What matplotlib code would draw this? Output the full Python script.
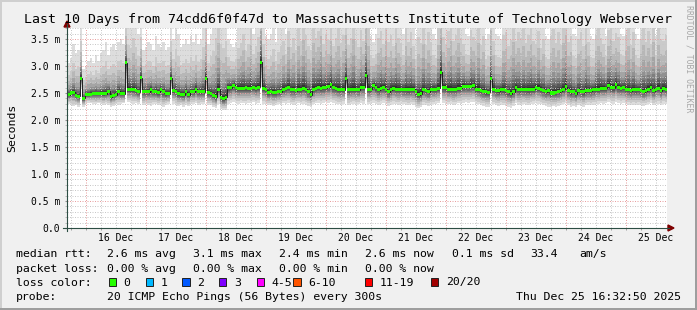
import numpy as np
import matplotlib
matplotlib.use("Agg")
import matplotlib.pyplot as plt
from matplotlib.patches import Rectangle, Polygon
from matplotlib.lines import Line2D

W, H = 697, 310
MONO = "DejaVu Sans Mono"
plt.rcParams["font.family"] = MONO

# one value per hour over the last 10 days, in ms
rtt_median = [
    2.47, 2.50, 2.51, 2.46, 2.44, 2.77, 2.40, 2.47, 2.47, 2.48, 2.49, 2.49, 2.49, 2.49, 2.49, 2.49, 2.53, 2.43, 2.46, 2.47,
    2.53, 2.49, 2.49, 3.06, 2.57, 2.57, 2.56, 2.55, 2.52, 2.78, 2.52, 2.52, 2.52, 2.56, 2.52, 2.52, 2.51, 2.56, 2.52, 2.49,
    2.49, 2.77, 2.54, 2.52, 2.49, 2.47, 2.47, 2.52, 2.47, 2.52, 2.52, 2.57, 2.52, 2.52, 2.52, 2.77, 2.51, 2.49, 2.45, 2.43,
    2.57, 2.42, 2.39, 2.42, 2.60, 2.60, 2.64, 2.60, 2.59, 2.59, 2.59, 2.60, 2.59, 2.59, 2.60, 2.59, 2.61, 3.07, 2.59, 2.56,
    2.51, 2.52, 2.51, 2.51, 2.52, 2.52, 2.57, 2.59, 2.60, 2.56, 2.56, 2.54, 2.57, 2.57, 2.59, 2.57, 2.52, 2.47, 2.57, 2.59,
    2.60, 2.59, 2.60, 2.60, 2.62, 2.65, 2.60, 2.59, 2.57, 2.56, 2.56, 2.76, 2.56, 2.57, 2.57, 2.57, 2.56, 2.61, 2.61, 2.83,
    2.57, 2.57, 2.64, 2.60, 2.56, 2.59, 2.60, 2.57, 2.52, 2.56, 2.59, 2.57, 2.57, 2.56, 2.56, 2.56, 2.56, 2.56, 2.57, 2.52,
    2.47, 2.49, 2.56, 2.54, 2.52, 2.56, 2.57, 2.57, 2.59, 2.88, 2.60, 2.60, 2.57, 2.57, 2.57, 2.57, 2.59, 2.59, 2.62, 2.62,
    2.62, 2.62, 2.63, 2.57, 2.57, 2.54, 2.52, 2.52, 2.51, 2.76, 2.57, 2.54, 2.54, 2.56, 2.56, 2.54, 2.52, 2.49, 2.52, 2.60,
    2.56, 2.56, 2.56, 2.56, 2.56, 2.56, 2.57, 2.60, 2.59, 2.57, 2.54, 2.52, 2.54, 2.50, 2.50, 2.51, 2.52, 2.54, 2.57, 2.62,
    2.54, 2.52, 2.52, 2.49, 2.54, 2.52, 2.52, 2.54, 2.54, 2.54, 2.56, 2.57, 2.57, 2.59, 2.59, 2.59, 2.63, 2.60, 2.60, 2.65,
    2.60, 2.59, 2.60, 2.57, 2.56, 2.54, 2.56, 2.56, 2.56, 2.54, 2.52, 2.54, 2.57, 2.60, 2.54, 2.57, 2.59, 2.54, 2.59, 2.57,
]
rtt_min = [
    2.30, 2.28, 2.26, 2.27, 2.25, 2.58, 2.24, 2.30, 2.32, 2.31, 2.30, 2.29, 2.31, 2.30, 2.28, 2.30, 2.27, 2.25, 2.26, 2.29,
    2.28, 2.30, 2.31, 2.60, 2.33, 2.32, 2.30, 2.31, 2.29, 2.56, 2.27, 2.30, 2.28, 2.26, 2.29, 2.30, 2.27, 2.28, 2.25, 2.27,
    2.29, 2.57, 2.30, 2.28, 2.26, 2.27, 2.25, 2.28, 2.26, 2.29, 2.30, 2.31, 2.28, 2.29, 2.30, 2.58, 2.28, 2.27, 2.24, 2.22,
    2.30, 2.20, 2.18, 2.19, 2.30, 2.32, 2.33, 2.31, 2.30, 2.32, 2.31, 2.30, 2.32, 2.31, 2.33, 2.30, 2.31, 2.62, 2.30, 2.29,
    2.27, 2.28, 2.26, 2.27, 2.29, 2.28, 2.31, 2.30, 2.32, 2.29, 2.28, 2.30, 2.31, 2.29, 2.30, 2.28, 2.26, 2.24, 2.29, 2.31,
    2.32, 2.30, 2.31, 2.33, 2.32, 2.34, 2.31, 2.30, 2.29, 2.28, 2.30, 2.58, 2.27, 2.29, 2.30, 2.28, 2.29, 2.31, 2.30, 2.60,
    2.29, 2.30, 2.32, 2.30, 2.28, 2.29, 2.31, 2.30, 2.26, 2.28, 2.30, 2.29, 2.28, 2.30, 2.29, 2.28, 2.27, 2.29, 2.28, 2.25,
    2.22, 2.24, 2.28, 2.27, 2.26, 2.28, 2.29, 2.30, 2.31, 2.62, 2.31, 2.30, 2.29, 2.30, 2.28, 2.29, 2.31, 2.30, 2.32, 2.33,
    2.32, 2.33, 2.34, 2.30, 2.29, 2.27, 2.26, 2.25, 2.24, 2.58, 2.29, 2.27, 2.26, 2.28, 2.27, 2.26, 2.25, 2.23, 2.26, 2.31,
    2.28, 2.27, 2.29, 2.28, 2.27, 2.29, 2.30, 2.31, 2.30, 2.29, 2.27, 2.26, 2.25, 2.24, 2.26, 2.25, 2.26, 2.27, 2.29, 2.31,
    2.27, 2.25, 2.26, 2.24, 2.27, 2.26, 2.25, 2.27, 2.28, 2.27, 2.28, 2.29, 2.30, 2.31, 2.30, 2.31, 2.33, 2.31, 2.30, 2.33,
    2.31, 2.30, 2.31, 2.29, 2.28, 2.27, 2.28, 2.27, 2.28, 2.27, 2.26, 2.27, 2.29, 2.31, 2.27, 2.29, 2.30, 2.27, 2.30, 2.29,
]
rtt_max = [
    3.05, 3.15, 3.40, 3.25, 3.30, 3.90, 2.95, 3.00, 3.10, 3.15, 3.05, 3.20, 3.10, 3.25, 3.30, 3.45, 3.20, 3.35, 3.40, 3.30,
    3.45, 3.50, 3.40, 4.20, 3.90, 3.80, 4.10, 3.85, 3.60, 4.00, 3.30, 3.35, 3.45, 3.40, 3.30, 3.55, 3.40, 3.35, 3.45, 3.30,
    3.35, 3.90, 3.50, 3.80, 3.60, 3.35, 3.40, 3.50, 3.40, 3.55, 3.45, 3.60, 3.40, 3.50, 3.85, 4.30, 3.40, 3.60, 3.80, 4.20,
    4.50, 4.00, 3.90, 4.10, 3.50, 3.40, 3.35, 3.45, 3.80, 3.95, 4.20, 3.70, 3.90, 4.40, 3.60, 3.85, 4.10, 5.00, 3.90, 3.55,
    3.50, 3.60, 3.80, 3.45, 3.70, 3.90, 4.00, 3.60, 4.30, 3.85, 4.10, 3.75, 4.40, 4.00, 4.60, 4.20, 3.90, 3.80, 4.50, 4.10,
    4.30, 4.80, 3.90, 4.20, 4.00, 4.50, 3.85, 4.10, 4.40, 3.95, 4.20, 4.60, 3.90, 4.10, 4.70, 4.00, 3.85, 4.30, 4.00, 4.80,
    4.40, 3.55, 3.45, 3.60, 4.10, 4.30, 3.90, 4.60, 4.00, 4.20, 3.85, 4.50, 4.10, 3.95, 3.60, 4.40, 4.00, 4.30, 3.85, 3.50,
    4.20, 4.00, 4.50, 3.90, 4.30, 4.00, 3.60, 3.50, 4.40, 5.00, 4.10, 3.90, 4.30, 4.60, 4.00, 4.20, 4.50, 4.10, 3.90, 3.60,
    3.55, 4.30, 4.10, 4.00, 4.50, 3.90, 4.20, 3.50, 3.60, 4.80, 4.00, 3.60, 3.55, 3.50, 4.20, 4.30, 3.90, 4.10, 4.60, 4.00,
    4.30, 4.10, 4.40, 3.95, 4.20, 4.50, 4.00, 3.90, 4.30, 3.80, 4.10, 3.55, 3.50, 4.20, 4.40, 4.00, 4.30, 3.90, 4.50, 4.80,
    4.00, 4.20, 3.60, 3.55, 4.10, 4.30, 3.90, 4.50, 4.00, 3.55, 3.50, 4.20, 4.40, 4.10, 3.90, 3.55, 4.30, 4.60, 4.00, 4.20,
    4.10, 3.60, 3.55, 4.20, 4.40, 3.90, 4.30, 3.60, 3.50, 4.10, 4.50, 4.00, 4.30, 3.90, 4.60, 3.55, 4.40, 4.10, 4.00, 4.20,
]

day_labels = ["16 Dec", "17 Dec", "18 Dec", "19 Dec", "20 Dec",
              "21 Dec", "22 Dec", "23 Dec", "24 Dec", "25 Dec"]
first_midnight = 7 + 27 / 60 + 10 / 3600   # hours from graph start (15 Dec 16:32:50)
y_ticks = [0.0, 0.5, 1.0, 1.5, 2.0, 2.5, 3.0, 3.5]
y_labels = ["0.0", "0.5 m", "1.0 m", "1.5 m", "2.0 m", "2.5 m", "3.0 m", "3.5 m"]

rtt_stats = [("2.6", "avg"), ("3.1", "max"), ("2.4", "min"), ("2.6", "now")]
rtt_sd = "0.1"
rtt_ams = "33.4"
loss_stats = [("0.00", "avg"), ("0.00", "max"), ("0.00", "min"), ("0.00", "now")]
loss_levels = ["0", "1", "2", "3", "4-5", "6-10", "11-19", "20/20"]
loss_colors = ["#26ff00", "#00b8ff", "#0059ff", "#7e00ff", "#ff00ff", "#ff5500", "#ff0000", "#a10000"]
probe_text = "20 ICMP Echo Pings (56 Bytes) every 300s"
stamp_text = "Thu Dec 25 16:32:50 2025"
title = "Last 10 Days from 74cdd6f0f47d to Massachusetts Institute of Technology Webserver"

# smoke layer spread (outer -> inner), fraction of distance from median
UP_SHAPE = [1.0, 0.62, 0.44, 0.30, 0.20, 0.15, 0.11, 0.08, 0.05, 0.03]
DOWN_SHAPE = [1.0, 0.82, 0.66, 0.53, 0.42, 0.33, 0.25, 0.18, 0.11, 0.05]
SWIDTH = 0.028


def fx(x):
    return x / W


def fy(y):
    return 1 - y / H


fig = plt.figure(figsize=(W / 100, H / 100), dpi=100, facecolor="#f0f0f0")
ax = fig.add_axes([fx(67), fy(228), 600 / W, 200 / H], facecolor="white")

med = np.array(rtt_median)
lo = np.array(rtt_min)
hi = np.array(rtt_max)
edges = np.arange(len(med) + 1)

for j in range(10):
    g = int(190 / 10 * (10 - (j + 1))) + 50
    col = "#%02x%02x%02x" % (g, g, g)
    top = med + (hi - med) * UP_SHAPE[j]
    bot = med - (med - lo) * DOWN_SHAPE[j]
    ax.stairs(top, edges, baseline=bot, fill=True, color=col, lw=0, zorder=1)

ax.set_xlim(0, 240)
ax.set_ylim(0, 200 / 54)

# grid
for v in np.arange(0.1, 3.75, 0.1):
    if abs(v / 0.5 - round(v / 0.5)) < 1e-6:
        ax.axhline(v, color="#e8a0a0", lw=0.72, ls=(0, (1, 1.5)), zorder=2)
    else:
        ax.axhline(v, color="#c8c8c8", lw=0.72, ls=(0, (1, 1.5)), zorder=2)
for k in range(-1, 11):
    for q in range(4):
        v = first_midnight + 24 * k + 6 * q
        if 0 < v < 240:
            c = "#e8a0a0" if q == 0 else "#c8c8c8"
            ax.axvline(v, color=c, lw=0.72, ls=(0, (1, 1.5)), zorder=2)

ax.stairs(med, edges, baseline=None, color="#202020", lw=0.7, zorder=3)
ax.stairs(med + SWIDTH, edges, baseline=med - SWIDTH, fill=True,
          color=loss_colors[0], lw=0, zorder=4)

for s in ax.spines.values():
    s.set_visible(False)

noon = [first_midnight + 12 + 24 * k for k in range(len(day_labels))]
ax.set_xticks(noon)
ax.set_xticklabels(day_labels)
ax.set_xticks([first_midnight + 6 * q for q in range(-1, 40) if 0 < first_midnight + 6 * q < 240], minor=True)
ax.tick_params(axis="x", which="major", length=0, pad=3.8, labelsize=7)
ax.tick_params(axis="x", which="minor", length=1.5, color="#909090")
ax.set_yticks(y_ticks)
ax.set_yticklabels(y_labels)
ax.set_yticks(np.arange(0, 3.71, 0.1), minor=True)
ax.tick_params(axis="y", which="major", length=1.5, pad=3.5, labelsize=7, color="#909090")
ax.tick_params(axis="y", which="minor", length=1.2, color="#b0b0b0")

# axes with arrows
fig.add_artist(Line2D([fx(67), fx(67)], [fy(231), fy(24)], color="#2c4d43", lw=0.8))
fig.add_artist(Line2D([fx(63), fx(669)], [fy(228), fy(228)], color="#2c4d43", lw=0.8))
fig.add_artist(Polygon([(fx(64), fy(27)), (fx(70), fy(27)), (fx(67), fy(21))],
                       closed=True, color="#7f0000", transform=fig.transFigure))
fig.add_artist(Polygon([(fx(668), fy(225)), (fx(668), fy(231)), (fx(674), fy(228))],
                       closed=True, color="#7f0000", transform=fig.transFigure))

# frame
fig.add_artist(Rectangle((0, fy(2)), 1, 2 / H, color="#cfcfcf", transform=fig.transFigure, lw=0))
fig.add_artist(Rectangle((0, 0), fx(2), 1, color="#cfcfcf", transform=fig.transFigure, lw=0))
fig.add_artist(Rectangle((0, 0), 1, 2 / H, color="#9e9e9e", transform=fig.transFigure, lw=0))
fig.add_artist(Rectangle((fx(695), 0), fx(2), 1, color="#9e9e9e", transform=fig.transFigure, lw=0))

fig.text(fx(348), fy(23.5), title, ha="center", va="baseline", size=9.5)
fig.text(fx(12), fy(128), "Seconds", rotation=90, ha="center", va="center", size=8.25)
fig.text(fx(688.5), fy(59), "RRDTOOL / TOBI OETIKER", rotation=270, ha="center",
         va="center", size=5.9, color="#a8a8a8")

LS = 8.25
cols = [107, 193, 279, 365]
fig.text(fx(16), fy(257), "median rtt:", va="baseline", size=LS)
for x, (v, n) in zip(cols, rtt_stats):
    fig.text(fx(x), fy(257), f"{v} ms {n}", va="baseline", size=LS)
fig.text(fx(452), fy(257), f"{rtt_sd} ms sd", va="baseline", size=LS)
fig.text(fx(530), fy(257), rtt_ams, va="baseline", size=LS)
fig.text(fx(579), fy(257), "am/s", va="baseline", size=LS)

fig.text(fx(16), fy(271.5), "packet loss:", va="baseline", size=LS)
for x, (v, n) in zip(cols, loss_stats):
    fig.text(fx(x), fy(271.5), f"{v} % {n}", va="baseline", size=LS)

fig.text(fx(16), fy(285.5), "loss color:", va="baseline", size=LS)
sq_x = [108.7, 145.7, 182.3, 219, 256.7, 293.3, 365, 431]
for x, lab, c in zip(sq_x, loss_levels, loss_colors):
    fig.add_artist(Rectangle((fx(x), fy(285.5)), 7.3 / W, 8 / H, facecolor=c,
                             edgecolor="#202020", lw=0.7, transform=fig.transFigure))
    fig.text(fx(x + 15), fy(285.5), lab, va="baseline", size=LS)

fig.text(fx(16), fy(300), "probe:", va="baseline", size=LS)
fig.text(fx(107), fy(300), probe_text, va="baseline", size=LS)
fig.text(fx(681), fy(300), stamp_text, ha="right", va="baseline", size=LS)

fig.savefig("out.png", dpi=100, facecolor=fig.get_facecolor())
